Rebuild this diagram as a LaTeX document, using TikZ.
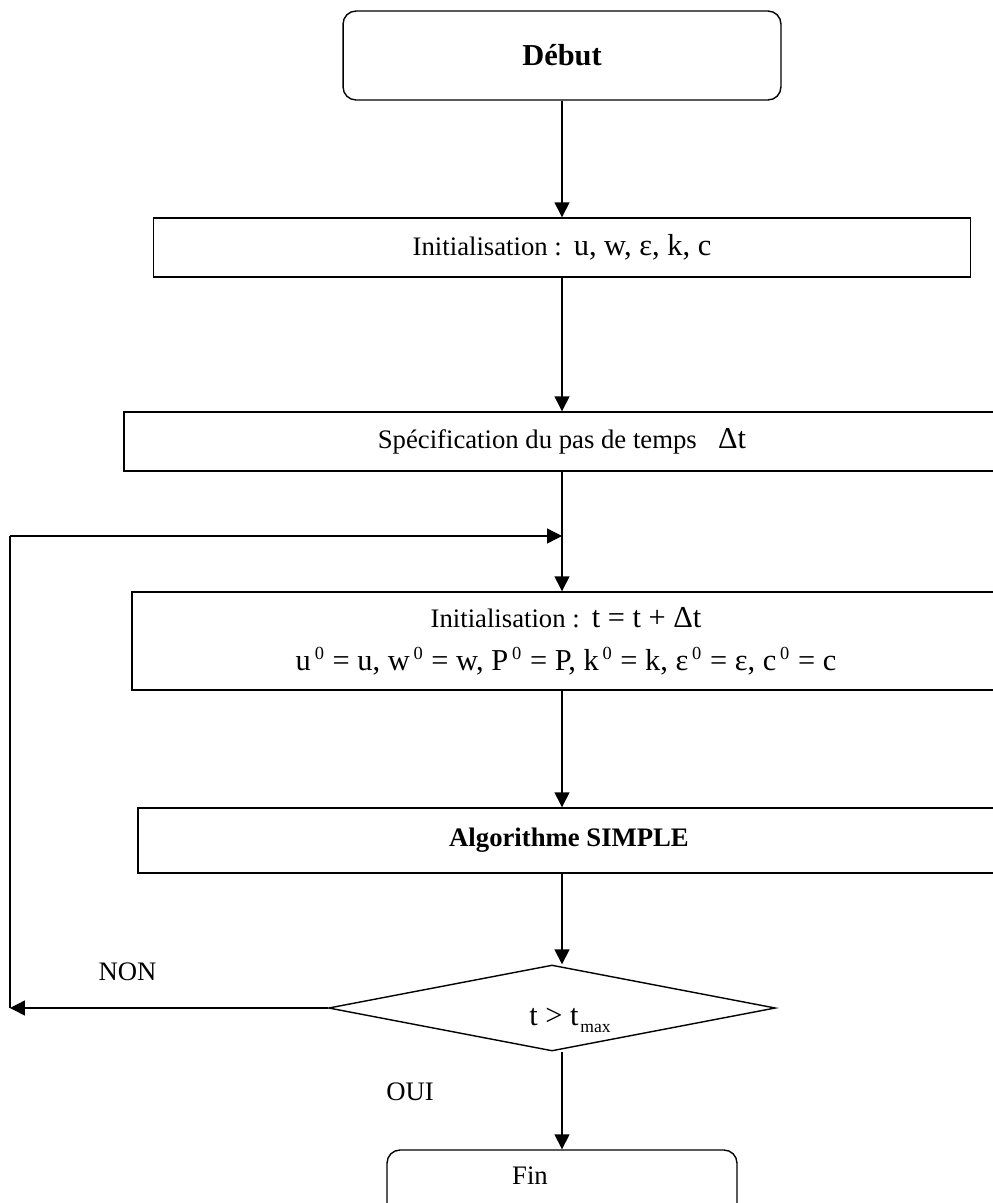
\documentclass[tikz,border=0pt]{standalone}
\usepackage{fontspec}
\setmainfont{Liberation Serif}
\usetikzlibrary{arrows.meta,shapes.geometric}
\newcommand{\grand}{\fontsize{17.3}{20}\selectfont}
\newcommand{\sups}[1]{\kern2.2pt\raisebox{0.75ex}{\fontsize{10.5}{10}\selectfont #1}\kern0.6pt\relax}
\newcommand{\subs}[1]{\kern1pt\raisebox{-0.55ex}{\fontsize{10}{10}\selectfont #1}}

\begin{document}
\begin{tikzpicture}[x=0.02cm, y=-0.02cm, line width=0.8pt,
		every node/.style={font=\fontsize{15.2}{18}\selectfont},
		bloc/.style={draw, rectangle, inner sep=0pt},
		terme/.style={bloc, rounded corners=0.26cm},
		fleche/.style={-{Triangle[length=0.3cm,width=0.3cm]}}]
			\useasboundingbox (0,0) rectangle (993,1203);
			\clip (0,0) rectangle (993,1203);
			% blocs
			\node[terme, minimum width=8.76cm, minimum height=1.78cm, font=\grand\bfseries]
				(debut) at (562,55.5) {Début};
			\node[bloc, minimum width=16.34cm, minimum height=1.18cm]
				(init) at (562,247.5) {Initialisation :\hspace{0.45em}{\grand u, w, ε, k, c}};
			\node[bloc, minimum width=17.52cm, minimum height=1.18cm]
				(spec) at (562,441.5) {Spécification du pas de temps\hspace{0.8em}{\grand Δt}};
			\node[bloc, minimum width=17.36cm, minimum height=1.96cm, align=center,
				font=\fontsize{15.2}{24.5}\selectfont]
				(initt) at (566,641) {Initialisation :\hspace{0.45em}{\grand t = t + Δt}\\
				{\grand u\sups{0} = u, w\sups{0} = w, P\sups{0} = P, k\sups{0} = k, ε\sups{0} = ε, c\sups{0} = c}};
			\node[bloc, minimum width=17.24cm, minimum height=1.3cm, font=\fontsize{15.2}{18}\selectfont\bfseries]
				(algo) at (569,840.5) {Algorithme SIMPLE};
			% test
			\node[draw, diamond, aspect=5.2, minimum width=8.94cm, minimum height=1.72cm, inner sep=0pt]
				(test) at (552,1008) {};
			\node (cond) at (570,1020) {{\grand t > t}\subs{max}};
			\node[terme, minimum width=7cm, minimum height=1.6cm, text height=0.35cm, text depth=0.59cm]
				(fin) at (562,1190) {Fin\hspace*{1.28cm}};
			% etiquettes
			\node (non) at (127.5,972) {NON};
			\node (oui) at (410,1092) {OUI};
			% boucle
			\coordinate (coin2) at (10,536);
			\coordinate (coin1) at (test.west -| coin2);
			\coordinate (retour) at (562,536);
			% fleches
			\draw[fleche] (debut.south) -- (debut.south |- init.north);
			\draw[fleche] (init.south) -- (init.south |- spec.north);
			\draw[fleche] (spec.south) -- (spec.south |- initt.north);
			\draw[fleche] (spec.south |- initt.south) -- (spec.south |- algo.north);
			\draw[fleche] (spec.south |- algo.south) -- (spec.south |- test.north);
			\draw[fleche] (test.south -| fin.north) -- (fin.north);
			\draw[fleche] (test.west) -- (coin1);
			\draw (coin1) -- (coin2);
			\draw[fleche] (coin2) -- (retour);
		\end{tikzpicture}
\end{document}
